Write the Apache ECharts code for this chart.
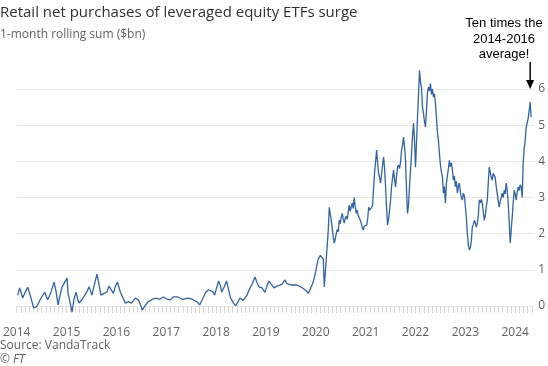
<!DOCTYPE html>
<html><head><meta charset="utf-8">
<script src="https://cdn.jsdelivr.net/npm/echarts@6/dist/echarts.min.js"></script>
<style>html,body{margin:0;padding:0;background:#fff}#c{width:548px;height:366px}</style>
</head><body><div id="c"></div>
<script>
// Decimal-year dates and 1-month rolling sum ($bn)
var dates = [2014.02,2014.06,2014.12,2014.16,2014.22,2014.28,2014.34,2014.40,2014.48,2014.56,2014.62,2014.68,2014.75,2014.79,2014.83,2014.87,2014.91,2014.95,
2015.01,2015.03,2015.07,2015.11,2015.15,2015.19,2015.23,2015.25,2015.31,2015.35,2015.41,2015.45,2015.51,2015.55,2015.61,2015.65,2015.69,2015.75,2015.81,2015.85,2015.89,2015.94,2015.98,
2016.02,2016.08,2016.14,2016.18,2016.24,2016.30,2016.34,2016.38,2016.44,2016.48,2016.52,2016.58,2016.64,2016.68,2016.74,2016.80,2016.86,2016.94,
2017.00,2017.08,2017.14,2017.18,2017.23,2017.27,2017.33,2017.37,2017.43,2017.47,2017.53,2017.57,2017.63,2017.67,2017.73,2017.79,2017.85,2017.89,2017.93,2017.97,
2018.01,2018.05,2018.09,2018.11,2018.17,2018.21,2018.25,2018.29,2018.35,2018.39,2018.44,2018.48,2018.54,2018.58,2018.62,2018.66,2018.72,2018.78,2018.82,2018.86,2018.92,2018.98,
2019.02,2019.06,2019.12,2019.16,2019.22,2019.26,2019.32,2019.38,2019.42,2019.46,2019.52,2019.56,2019.62,2019.66,2019.71,2019.75,2019.81,2019.85,2019.89,2019.93,2019.97,
2020.01,2020.05,2020.09,2020.13,2020.15,2020.17,2020.21,2020.25,2020.27,2020.29,2020.31,2020.33,2020.35,2020.37,2020.39,2020.41,2020.43,2020.45,2020.47,2020.49,
2020.51,2020.53,2020.55,2020.57,2020.59,2020.61,2020.63,2020.65,2020.67,2020.69,2020.71,2020.73,2020.75,2020.77,2020.79,2020.81,2020.83,2020.85,2020.87,2020.89,
2020.91,2020.93,2020.95,2020.97,2021.00,2021.02,2021.04,2021.06,2021.08,2021.10,2021.12,2021.14,2021.16,2021.18,2021.20,2021.22,2021.24,2021.26,2021.28,2021.30,
2021.32,2021.34,2021.36,2021.38,2021.40,2021.42,2021.44,2021.46,2021.48,2021.50,2021.52,2021.54,2021.56,2021.58,2021.60,2021.62,2021.64,2021.66,2021.68,2021.70,
2021.72,2021.74,2021.76,2021.78,2021.80,2021.82,2021.84,2021.86,2021.88,2021.90,2021.92,2021.94,2021.96,2021.98,2022.00,2022.02,2022.04,2022.06,2022.08,2022.10,
2022.12,2022.14,2022.16,2022.18,2022.20,2022.22,2022.24,2022.26,2022.28,2022.30,2022.32,2022.34,2022.36,2022.38,2022.40,2022.42,2022.44,2022.46,2022.48,2022.50,
2022.52,2022.54,2022.56,2022.58,2022.60,2022.62,2022.64,2022.66,2022.68,2022.70,2022.72,2022.74,2022.76,2022.78,2022.80,2022.82,2022.84,2022.86,2022.88,2022.90,
2022.92,2022.94,2022.96,2022.98,2023.00,2023.02,2023.04,2023.06,2023.08,2023.10,2023.12,2023.14,2023.16,2023.18,2023.20,2023.22,2023.24,2023.26,2023.28,2023.30,
2023.32,2023.34,2023.36,2023.38,2023.40,2023.42,2023.44,2023.46,2023.48,2023.50,2023.52,2023.54,2023.56,2023.58,2023.60,2023.62,2023.64,2023.66,2023.68,2023.70,
2023.72,2023.74,2023.76,2023.78,2023.80,2023.82,2023.84,2023.86,2023.88,2023.90,2023.92,2023.94,2023.96,2023.98,2024.00,2024.02,2024.04,2024.06,2024.08,2024.10,
2024.12,2024.14,2024.16,2024.18,2024.20,2024.22,2024.24,2024.26,2024.28,2024.30,2024.32];
var values = [0.30,0.50,0.22,0.35,0.52,0.25,-0.05,-0.02,0.20,0.38,0.17,0.35,0.66,0.40,0.03,0.30,0.53,0.50,
0.77,0.35,0.10,-0.17,0.20,0.38,0.15,0.08,0.18,0.22,0.40,0.53,0.30,0.55,0.88,0.60,0.30,0.35,0.38,0.55,0.50,0.35,0.55,
0.66,0.38,0.20,0.08,0.12,0.08,0.15,0.22,0.17,0.05,-0.11,0.02,0.12,0.17,0.20,0.22,0.18,0.25,
0.20,0.17,0.25,0.30,0.25,0.22,0.18,0.17,0.22,0.25,0.18,0.15,0.10,0.03,0.20,0.38,0.45,0.50,0.40,0.30,
0.50,0.69,0.55,0.38,0.55,0.69,0.45,0.22,0.08,0.00,0.12,0.22,0.15,0.17,0.30,0.44,0.60,0.80,0.65,0.53,0.50,0.38,
0.55,0.69,0.58,0.50,0.55,0.50,0.60,0.72,0.62,0.60,0.58,0.63,0.58,0.55,0.52,0.50,0.42,0.35,0.40,0.60,0.77,
1.05,1.30,1.40,1.45,1.30,0.53,1.30,2.10,2.73,2.55,2.37,2.15,1.90,1.74,1.85,2.00,2.12,2.05,2.37,2.28,
2.45,2.56,2.40,2.29,2.42,2.48,2.40,2.60,2.79,2.62,2.65,2.85,2.70,3.00,2.75,2.56,2.65,2.50,2.48,2.38,
2.30,2.18,2.10,2.20,2.15,2.24,2.40,2.73,2.65,2.70,2.73,2.80,3.29,3.70,4.00,4.31,3.95,3.67,3.55,3.40,
3.65,3.90,4.12,3.80,3.29,2.70,2.24,2.40,2.65,2.93,3.30,3.55,3.76,3.50,3.29,3.60,3.84,3.90,3.80,3.98,
4.30,4.45,4.67,4.40,4.03,3.20,2.56,2.80,3.30,3.76,4.20,4.70,5.05,4.60,3.84,4.50,5.22,5.80,6.52,6.20,
6.05,5.50,5.33,5.10,4.95,5.40,5.90,6.05,5.95,6.15,5.85,6.00,5.78,5.87,5.60,5.22,4.80,4.58,4.22,3.90,
3.70,3.57,3.12,3.30,2.85,3.40,3.60,3.80,4.03,3.85,3.95,3.76,3.48,3.60,3.30,3.45,3.12,3.30,3.40,3.15,
3.00,2.93,3.12,3.05,3.10,2.46,2.00,1.70,1.55,1.62,1.80,2.18,2.25,2.37,2.30,2.18,2.30,2.50,2.93,2.85,
2.95,2.85,2.60,2.37,2.50,2.75,2.93,3.40,3.84,3.70,3.55,3.48,3.67,3.67,3.55,3.29,3.10,2.90,2.73,2.90,
3.00,3.12,3.00,3.20,3.10,3.40,3.20,2.85,2.30,1.74,2.10,2.46,2.85,3.20,3.10,2.93,3.15,3.29,3.20,3.35,
3.29,3.00,3.95,4.35,4.58,4.95,5.05,5.19,5.40,5.64,5.22];
var yearLabels = [2014,2015,2016,2017,2018,2019,2020,2021,2022,2023,2024];

var chart = echarts.init(document.getElementById('c'), null, {renderer:'canvas'});
var pts = dates.map(function(d,i){return [d, values[i]];});
var monthTicks = [];
for (var m = 0; m <= 124; m++) monthTicks.push(2014 + m/12);
var grey = '#66605c';
var option = {
  animation:false,
  backgroundColor:'#ffffff',
  textStyle:{fontFamily:'Open Sans'},
  title:[
    {text:'Retail net purchases of leveraged equity ETFs surge', left:-5, top:0,
     textStyle:{fontFamily:'Open Sans', fontSize:15, fontWeight:'normal', color:'#33302e'}},
    {text:'1-month rolling sum ($bn)', left:-5, top:24,
     textStyle:{fontFamily:'Open Sans', fontSize:12, fontWeight:'normal', color:grey}}
  ],
  grid:{left:12, right:13, top:89, bottom:60, containLabel:false},
  xAxis:{type:'value', min:2014, max:2024.38, offset:5,
    axisLine:{show:false},
    axisTick:{show:true, length:7, lineStyle:{color:'#ddd4ce', width:1}, customValues:monthTicks},
    splitLine:{show:false},
    axisLabel:{customValues:yearLabels, color:grey, fontSize:12, margin:16, fontFamily:'Open Sans',
      formatter:function(v){return String(Math.round(v));}}
  },
  yAxis:{type:'value', position:'right', min:0, max:6, interval:1,
    axisLine:{show:false}, axisTick:{show:false},
    splitLine:{lineStyle:{color:'#ebe7e4', width:1}},
    axisLabel:{color:grey, fontSize:12, margin:4, fontFamily:'Open Sans'}
  },
  series:[{type:'line', data:pts, showSymbol:false, clip:false,
    lineStyle:{color:'#2f63a8', width:1.3}}]
};
chart.setOption(option);
var tip = chart.convertToPixel({gridIndex:0}, [2024.3, 6]);
chart.setOption({graphic:[
  {type:'text', style:{text:'Ten times the\n2014-2016\naverage!', x:504, y:16, textAlign:'center',
    font:'13px "Liberation Sans"', fill:'#000', lineHeight:15.5}},
  {type:'line', shape:{x1:tip[0], y1:tip[1]-27, x2:tip[0], y2:tip[1]-8}, style:{stroke:'#000', lineWidth:1.5}},
  {type:'polygon', shape:{points:[[tip[0]-4, tip[1]-9],[tip[0]+4, tip[1]-9],[tip[0], tip[1]]]}, style:{fill:'#000'}},
  {type:'text', style:{text:'Source: VandaTrack', x:0, y:346, textVerticalAlign:'middle', font:'12px "Open Sans"', fill:grey}},
  {type:'text', style:{text:'\u00A9 FT', x:0, y:360, textVerticalAlign:'middle', font:'italic 12px "Open Sans"', fill:grey}}
]});
</script></body></html>
